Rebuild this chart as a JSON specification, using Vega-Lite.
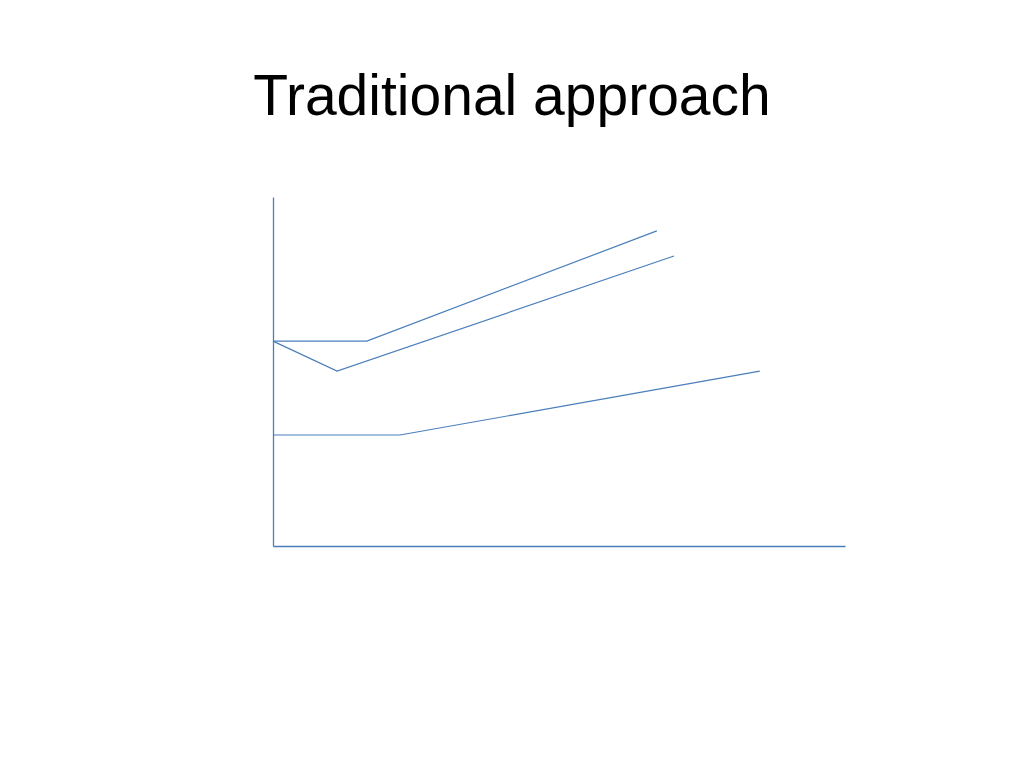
{
  "$schema": "https://vega.github.io/schema/vega-lite/v6.json",
  "autosize": "none",
  "width": 572,
  "height": 349,
  "padding": {"left": 273, "top": 197, "right": 179, "bottom": 222},
  "background": "white",
  "title": {
    "text": "Traditional approach",
    "font": "Liberation Sans",
    "fontSize": 57,
    "fontWeight": "normal",
    "color": "black",
    "anchor": "middle",
    "frame": "group",
    "baseline": "alphabetic",
    "offset": 25,
    "dx": -47
  },
  "data": {
    "values": [
      {"series": "A", "step": 1, "x": 0, "y": 58.7},
      {"series": "A", "step": 2, "x": 16.4, "y": 58.7},
      {"series": "A", "step": 3, "x": 67.1, "y": 90.3},
      {"series": "B", "step": 1, "x": 0, "y": 58.7},
      {"series": "B", "step": 2, "x": 11.2, "y": 50.1},
      {"series": "B", "step": 3, "x": 70.1, "y": 83.1},
      {"series": "C", "step": 1, "x": 0, "y": 31.8},
      {"series": "C", "step": 2, "x": 22.2, "y": 31.8},
      {"series": "C", "step": 3, "x": 85.1, "y": 50.1}
    ]
  },
  "mark": {"type": "line", "color": "#4a7ebb", "strokeWidth": 1.2},
  "encoding": {
    "x": {
      "field": "x",
      "type": "quantitative",
      "scale": {"domain": [0, 100], "nice": false, "zero": false},
      "axis": {"title": null, "labels": false, "ticks": false, "grid": false, "domainColor": "#4a7ebb", "domainWidth": 1.3}
    },
    "y": {
      "field": "y",
      "type": "quantitative",
      "scale": {"domain": [0, 100], "nice": false, "zero": false},
      "axis": {"title": null, "labels": false, "ticks": false, "grid": false, "domainColor": "#4a7ebb", "domainWidth": 1.3}
    },
    "detail": {"field": "series", "type": "nominal"},
    "order": {"field": "step", "type": "quantitative"}
  },
  "config": {"view": {"stroke": null}}
}
